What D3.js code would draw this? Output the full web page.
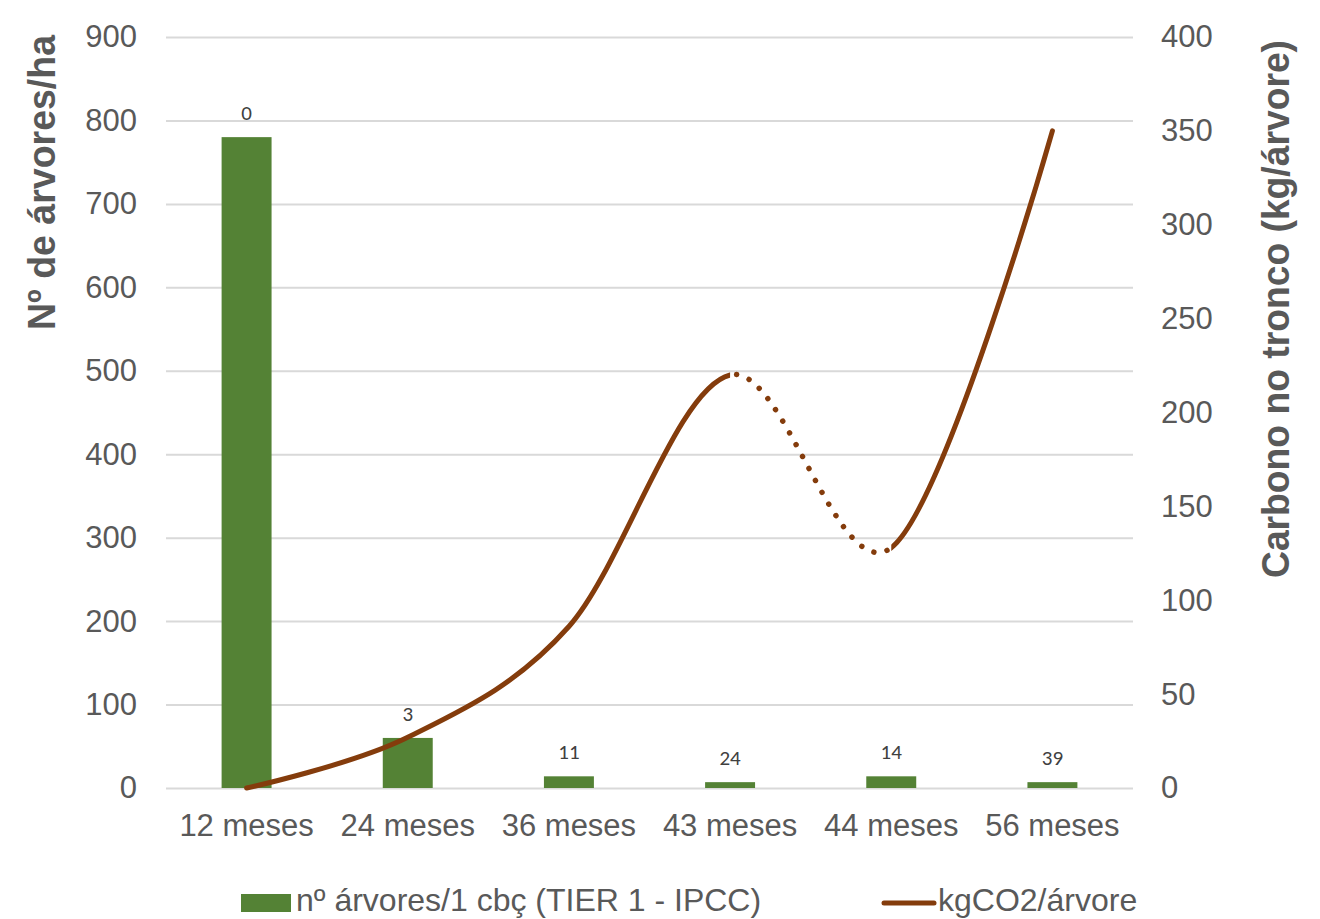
<!DOCTYPE html>
<html>
<head>
<meta charset="utf-8">
<script src="https://cdn.jsdelivr.net/npm/d3@7"></script>
<style>
  html, body { margin: 0; padding: 0; background: #ffffff; }
  svg { display: block; }
  text { font-family: "Liberation Sans", Arial, sans-serif; }
</style>
</head>
<body>
<svg id="chart" width="1320" height="919"></svg>
<script>
// Age classes along the horizontal axis
const categories = ["12 meses", "24 meses", "36 meses", "43 meses", "44 meses", "56 meses"];
// Trees per hectare (left axis, bars)
const treesPerHa = [780, 60, 14, 7, 14, 7];
// Labels printed above each bar
const barLabels = ["0", "3", "11", "24", "14", "39"];
// kg CO2 per tree (right axis, smoothed line)
const co2PerTree = [0, 27, 86, 220, 128, 350];
// Axis ticks
const leftTicks = [0, 100, 200, 300, 400, 500, 600, 700, 800, 900];
const rightTicks = [0, 50, 100, 150, 200, 250, 300, 350, 400];
// Series names
const barName = "nº árvores/1 cbç (TIER 1 - IPCC)";
const lineName = "kgCO2/árvore";

const GREEN = "#548235";
const BROWN = "#843C0C";
const GRID = "#D9D9D9";
const TEXT = "#595959";

const svg = d3.select("#chart");
const plot = { left: 166, right: 1133, top: 37, bottom: 788 };

const x = d3.scaleBand().domain(categories).range([plot.left, plot.right]).padding(0);
const yL = d3.scaleLinear().domain([0, 900]).range([plot.bottom, plot.top]);
const yR = d3.scaleLinear().domain([0, 400]).range([plot.bottom, plot.top]);

// Left axis with gridlines
const gL = svg.append("g")
  .attr("transform", `translate(${plot.left},0)`)
  .call(d3.axisLeft(yL).tickValues(leftTicks).tickSize(-(plot.right - plot.left)).tickPadding(29));
gL.select(".domain").remove();
gL.selectAll(".tick line").attr("stroke", GRID).attr("stroke-width", 2);
gL.selectAll(".tick text").attr("fill", TEXT).style("font-size", "31px")
  .style("font-family", "'Liberation Sans', Arial, sans-serif");

// Right axis
const gR = svg.append("g")
  .attr("transform", `translate(${plot.right},0)`)
  .call(d3.axisRight(yR).tickValues(rightTicks).tickSize(0).tickPadding(28));
gR.select(".domain").remove();
gR.selectAll(".tick text").attr("fill", TEXT).style("font-size", "31px")
  .style("font-family", "'Liberation Sans', Arial, sans-serif");

// Category axis
const gX = svg.append("g")
  .attr("transform", `translate(0,${plot.bottom})`)
  .call(d3.axisBottom(x).tickSize(0).tickPadding(26));
gX.select(".domain").remove();
gX.selectAll(".tick text").attr("fill", TEXT).style("font-size", "31px")
  .style("font-family", "'Liberation Sans', Arial, sans-serif");

// Bars
const barW = x.bandwidth() * 0.31;
svg.append("g").selectAll("rect")
  .data(treesPerHa)
  .join("rect")
  .attr("x", (d, i) => x(categories[i]) + x.bandwidth() / 2 - barW / 2)
  .attr("y", d => yL(d))
  .attr("width", barW)
  .attr("height", d => yL(0) - yL(d))
  .attr("fill", GREEN);

// Labels above bars
svg.append("g").selectAll("text")
  .data(treesPerHa)
  .join("text")
  .attr("x", (d, i) => x(categories[i]) + x.bandwidth() / 2)
  .attr("y", d => yL(d) - 17)
  .attr("text-anchor", "middle")
  .attr("fill", "#404040")
  .style("font-family", "Carlito, Calibri, 'Open Sans', sans-serif")
  .style("font-size", "21px")
  .text((d, i) => barLabels[i]);

// Smoothed CO2 line; the 43 -> 44 meses stretch is drawn dotted
const pts = co2PerTree.map((v, i) => [x(categories[i]) + x.bandwidth() / 2, yR(v)]);
const lineGen = d3.line().curve(d3.curveCardinal.tension(0));
const xA = pts[3][0], xB = pts[4][0];

const defs = svg.append("defs");
defs.append("clipPath").attr("id", "solidClip")
  .selectAll("rect")
  .data([[0, xA], [xB, 1320]])
  .join("rect")
  .attr("x", d => d[0]).attr("y", 0)
  .attr("width", d => d[1] - d[0]).attr("height", 919);
defs.append("clipPath").attr("id", "dotClip")
  .append("rect")
  .attr("x", xA).attr("y", 0).attr("width", xB - xA).attr("height", 919);

svg.append("path")
  .attr("d", lineGen(pts))
  .attr("fill", "none")
  .attr("stroke", BROWN)
  .attr("stroke-width", 5)
  .attr("stroke-linecap", "round")
  .attr("stroke-linejoin", "round")
  .attr("clip-path", "url(#solidClip)");

svg.append("path")
  .attr("d", lineGen(pts))
  .attr("fill", "none")
  .attr("stroke", BROWN)
  .attr("stroke-width", 5.5)
  .attr("stroke-linecap", "round")
  .attr("stroke-dasharray", "0.01 13.5")
  .attr("clip-path", "url(#dotClip)");

// Axis titles
svg.append("text")
  .attr("transform", "translate(55,35) rotate(-90)")
  .attr("text-anchor", "end")
  .attr("fill", TEXT)
  .style("font-weight", "bold")
  .style("font-size", "38px")
  .attr("textLength", 295)
  .attr("lengthAdjust", "spacingAndGlyphs")
  .text("Nº de árvores/ha");

svg.append("text")
  .attr("transform", "translate(1289,40) rotate(-90)")
  .attr("text-anchor", "end")
  .attr("fill", TEXT)
  .style("font-weight", "bold")
  .style("font-size", "38px")
  .attr("textLength", 538)
  .attr("lengthAdjust", "spacingAndGlyphs")
  .text("Carbono no tronco (kg/árvore)");

// Legend
const leg = svg.append("g");
leg.append("rect").attr("x", 241).attr("y", 894).attr("width", 50).attr("height", 18).attr("fill", GREEN);
leg.append("text").attr("x", 296).attr("y", 911).attr("fill", TEXT)
  .style("font-size", "32px").text(barName);
leg.append("line").attr("x1", 884).attr("x2", 934).attr("y1", 903).attr("y2", 903)
  .attr("stroke", BROWN).attr("stroke-width", 5).attr("stroke-linecap", "round");
leg.append("text").attr("x", 938).attr("y", 911).attr("fill", TEXT)
  .style("font-size", "32px").text(lineName);
</script>
</body>
</html>
